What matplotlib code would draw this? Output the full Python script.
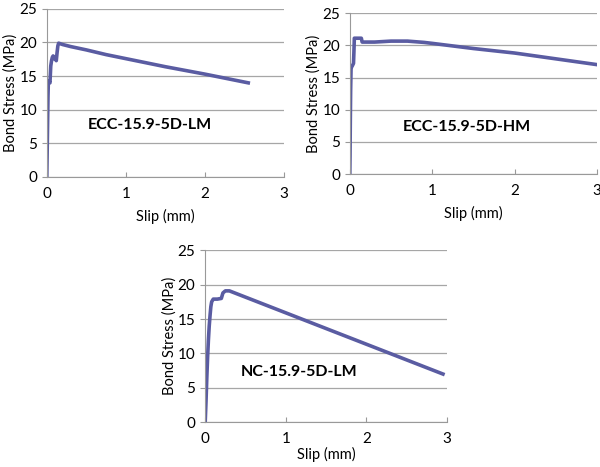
import matplotlib
matplotlib.use('Agg')
from matplotlib import pyplot as plt

# ECC-15.9-5D-LM
slip_lm = [0, 0.005, 0.01, 0.015, 0.02, 0.03, 0.04, 0.05, 0.06, 0.07, 0.08, 0.09, 0.1,
           0.11, 0.12, 0.13, 0.14, 0.15, 0.2, 0.3, 0.5, 0.75, 1.0, 1.5, 2.0, 2.55]
stress_lm = [0, 4, 8, 12, 14.3, 14.2, 14.0, 16.5, 17.3, 17.8, 18.0, 17.6, 17.8,
             17.5, 17.3, 18.5, 19.5, 19.9, 19.7, 19.4, 18.9, 18.2, 17.6, 16.4, 15.3, 14.0]

# ECC-15.9-5D-HM
slip_hm = [0, 0.003, 0.006, 0.01, 0.015, 0.02, 0.03, 0.045, 0.05, 0.055, 0.1, 0.14,
           0.15, 0.3, 0.5, 0.7, 0.9, 1.0, 1.5, 2.0, 2.5, 3.0]
stress_hm = [0, 3, 8, 13, 16.3, 16.6, 16.8, 17.2, 19.0, 21.1, 21.1, 21.1,
             20.5, 20.5, 20.65, 20.65, 20.45, 20.3, 19.5, 18.8, 17.9, 17.0]

# NC-15.9-5D-LM
slip_nc = [0, 0.01, 0.02, 0.03, 0.04, 0.05, 0.06, 0.07, 0.08, 0.1, 0.15, 0.2,
           0.22, 0.25, 0.3, 2.95]
stress_nc = [0, 3, 6.5, 9.5, 12, 14, 15.5, 16.8, 17.5, 17.9, 17.9, 18.0,
             18.8, 19.1, 19.1, 7.0]

plt.rcParams['font.family'] = ['Lato', 'DejaVu Sans']
line_color = '#5a5ca2'

fig = plt.figure(figsize=(6, 4.67), dpi=100)


def draw_panel(rect, x, y, name, name_xy, xpad):
    ax = fig.add_axes(rect)
    ax.plot(x, y, color=line_color, linewidth=2.6, solid_joinstyle='round')
    ax.set_xlim(0, 3)
    ax.set_ylim(0, 25)
    ax.set_xticks([0, 1, 2, 3])
    ax.set_yticks([0, 5, 10, 15, 20, 25])
    ax.grid(axis='y', color='#a6a6a6', linewidth=0.9)
    ax.set_axisbelow(True)
    for s in ['top', 'right']:
        ax.spines[s].set_visible(False)
    ax.spines['left'].set_color('#999999')
    ax.spines['bottom'].set_color('#999999')
    ax.tick_params(axis='both', colors='#999999', labelcolor='black', labelsize=11,
                   length=3.5, width=0.8)
    ax.tick_params(axis='x', direction='in', pad=7)
    ax.set_xlabel('Slip (mm)', fontsize=10.5, labelpad=xpad)
    ax.set_ylabel('Bond Stress (MPa)', fontsize=10.5, labelpad=1)
    ax.text(name_xy[0], name_xy[1], name, fontsize=11.5, fontweight='bold',
            ha='center', va='center')
    return ax


draw_panel([0.078, 0.621, 0.395, 0.36], slip_lm, stress_lm, 'ECC-15.9-5D-LM', (1.30, 7.7), 6)
draw_panel([0.583, 0.627, 0.412, 0.345], slip_hm, stress_hm, 'ECC-15.9-5D-HM', (1.42, 7.3), 6)
draw_panel([0.342, 0.096, 0.403, 0.368], slip_nc, stress_nc, 'NC-15.9-5D-LM', (1.16, 7.3), 1)

fig.savefig('out.png', dpi=100)
